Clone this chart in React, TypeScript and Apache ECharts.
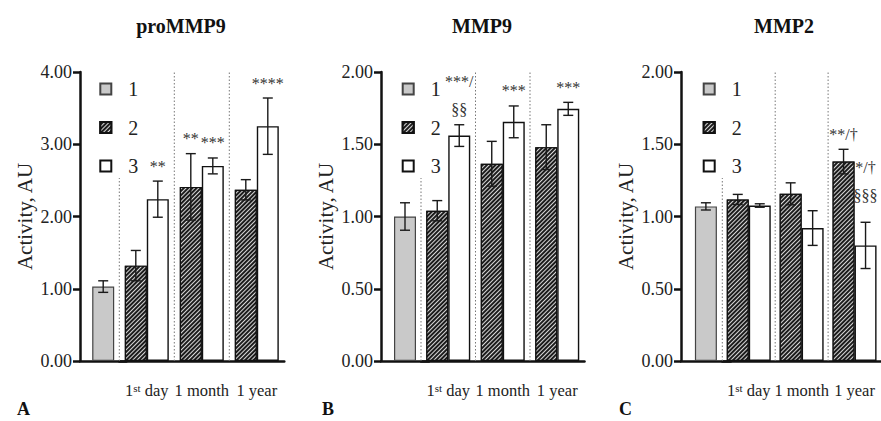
import React, { useEffect, useRef } from 'react';
import * as echarts from 'echarts';

const FONT = '"Liberation Serif", "Times New Roman", Times, serif';

// ---------- text ----------
const PANEL_TITLES = ['proMMP9', 'MMP9', 'MMP2'];
const PANEL_LETTERS = ['A', 'B', 'C'];
const GROUP_NAMES = ['1', '2', '3'];
const TIME_POINTS = ['1st day', '1 month', '1 year'];
const Y_NAME = 'Activity, AU';
const Y_MAX = [4, 2, 2];
const Y_STEP = [1, 0.5, 0.5];

// ---------- group 1 (control): one value per panel ----------
const CONTROL_MEAN = [1.03, 1.0, 1.07];
const CONTROL_ERR = [0.08, 0.095, 0.025];

// ---------- proMMP9 ----------
const PROMMP9_G2 = [1.32, 2.41, 2.37];
const PROMMP9_G2_ERR = [0.21, 0.46, 0.14];
const PROMMP9_G3 = [2.24, 2.7, 3.25];
const PROMMP9_G3_ERR = [0.25, 0.11, 0.39];
const PROMMP9_G2_MARK = ['', '**', ''];
const PROMMP9_G3_MARK = ['**', '***', '****'];

// ---------- MMP9 ----------
const MMP9_G2 = [1.04, 1.365, 1.48];
const MMP9_G2_ERR = [0.07, 0.155, 0.155];
const MMP9_G3 = [1.56, 1.655, 1.745];
const MMP9_G3_ERR = [0.075, 0.11, 0.045];
const MMP9_G2_MARK = ['', '', ''];
const MMP9_G3_MARK = ['***/\n§§', '***', '***'];

// ---------- MMP2 ----------
const MMP2_G2 = [1.118, 1.157, 1.38];
const MMP2_G2_ERR = [0.035, 0.076, 0.085];
const MMP2_G3 = [1.076, 0.92, 0.8];
const MMP2_G3_ERR = [0.012, 0.12, 0.16];
const MMP2_G2_MARK = ['', '', '**/†'];
const MMP2_G3_MARK = ['', '', '*/†\n§§§'];

const PANEL_DATA = [
  { g2: PROMMP9_G2, g2e: PROMMP9_G2_ERR, g3: PROMMP9_G3, g3e: PROMMP9_G3_ERR, m2: PROMMP9_G2_MARK, m3: PROMMP9_G3_MARK },
  { g2: MMP9_G2, g2e: MMP9_G2_ERR, g3: MMP9_G3, g3e: MMP9_G3_ERR, m2: MMP9_G2_MARK, m3: MMP9_G3_MARK },
  { g2: MMP2_G2, g2e: MMP2_G2_ERR, g3: MMP2_G3, g3e: MMP2_G3_ERR, m2: MMP2_G2_MARK, m3: MMP2_G3_MARK },
];

// ---------- layout / style ----------
const LAYOUT = [
  { axisX: 80, ctrlW: 46.4, groupX: 119.3, groupW: 165, legendX: 99.3, titleX: 181, letterX: 17 },
  { axisX: 381, ctrlW: 48, groupX: 421, groupW: 163.5, legendX: 401.7, titleX: 482, letterX: 322 },
  { axisX: 681, ctrlW: 49.8, groupX: 722.3, groupW: 164.1, legendX: 702.7, titleX: 784, letterX: 619 },
];
const GRID_TOP = 72;
const GRID_H = 289;
const BAR_W = 22;
const CAP = 5;
const MARK_GAP = 15;
const MARK_LINE = 28;
const MARK_EXTRA_LIFT: Record<string, number> = { '2-3-2': 12 };

const HATCH = {
  symbol: 'rect',
  symbolSize: 1,
  color: 'rgba(225,225,225,0.95)',
  dashArrayX: [1, 0],
  dashArrayY: [1, 2],
  rotation: -Math.PI / 4,
};

function errorSeries(axisIdx: number, means: number[], errs: number[], marks: string[], offset: number, key: string) {
  return {
    type: 'custom',
    xAxisIndex: axisIdx,
    yAxisIndex: axisIdx,
    z: 5,
    silent: true,
    clip: false,
    data: means.map((m, i) => [i, m, errs[i]]),
    renderItem: (params: any, api: any) => {
      const i = api.value(0);
      const m = api.value(1);
      const e = api.value(2);
      const top = api.coord([i, m + e]);
      const bot = api.coord([i, m - e]);
      const x = top[0] + offset;
      const ls = { stroke: '#1a1a1a', lineWidth: 1.4 };
      const children: any[] = [
        { type: 'line', shape: { x1: x, y1: top[1], x2: x, y2: bot[1] }, style: ls },
        { type: 'line', shape: { x1: x - CAP, y1: top[1], x2: x + CAP, y2: top[1] }, style: ls },
        { type: 'line', shape: { x1: x - CAP, y1: bot[1], x2: x + CAP, y2: bot[1] }, style: ls },
      ];
      const lines = (marks[params.dataIndex] || '').split('\n').filter(Boolean).reverse();
      const lift = MARK_EXTRA_LIFT[`${key}-${params.dataIndex}`] || 0;
      lines.forEach((t, k) => {
        children.push({
          type: 'text',
          style: {
            text: t,
            x,
            y: top[1] - MARK_GAP - lift - k * MARK_LINE,
            align: 'center',
            verticalAlign: 'middle',
            fontSize: 16,
            fontFamily: FONT,
            fill: '#333',
          },
        });
      });
      return { type: 'group', children };
    },
  };
}

function buildOption() {
  const grid: any[] = [];
  const xAxis: any[] = [];
  const yAxis: any[] = [];
  const series: any[] = [];
  const legend: any[] = [];
  const graphic: any[] = [];

  PANEL_DATA.forEach((d, p) => {
    const L = LAYOUT[p];
    const a = 2 * p;
    const b = 2 * p + 1;
    grid.push({ left: L.axisX, top: GRID_TOP, width: L.ctrlW, height: GRID_H });
    grid.push({ left: L.groupX, top: GRID_TOP, width: L.groupW, height: GRID_H });

    const axisLine = { show: true, lineStyle: { color: '#111', width: 2.5 } };
    xAxis.push({
      gridIndex: a, type: 'category', data: [''],
      axisLine, axisTick: { show: false }, axisLabel: { show: false },
    });
    xAxis.push({
      gridIndex: b, type: 'category', data: TIME_POINTS,
      axisLine, axisTick: { show: false },
      axisLabel: {
        interval: 0, margin: 21, fontFamily: FONT, fontSize: 16.5, color: '#222',
        formatter: (v: string) => v.replace(/^1st/, '1{sup|st}'),
        rich: { sup: { fontSize: 11, fontFamily: FONT, color: '#222', verticalAlign: 'top', padding: [0, 0, 6, 0] } },
      },
    });
    yAxis.push({
      gridIndex: a, type: 'value', min: 0, max: Y_MAX[p], interval: Y_STEP[p],
      name: Y_NAME, nameLocation: 'middle', nameGap: 45,
      nameTextStyle: { fontFamily: FONT, fontSize: 21, color: '#222' },
      axisLine, axisTick: { show: true, length: 7, lineStyle: { color: '#111', width: 2.5 } },
      axisLabel: { margin: 8, fontFamily: FONT, fontSize: 18, color: '#222', formatter: (v: number) => v.toFixed(2) },
      splitLine: { show: false },
    });
    yAxis.push({ gridIndex: b, type: 'value', min: 0, max: Y_MAX[p], interval: Y_STEP[p], show: false });

    // separators between the groups
    series.push({
      type: 'custom', xAxisIndex: b, yAxisIndex: b, z: 1, silent: true,
      data: TIME_POINTS.map((_, i) => [i]),
      renderItem: (params: any, api: any) => {
        const i = api.value(0);
        const c0 = api.coord([i, 0]);
        const c1 = api.coord([i, Y_MAX[p]]);
        const half = api.size([1, 0])[0] / 2;
        const x = c0[0] - half;
        return {
          type: 'line',
          shape: { x1: x, y1: c0[1], x2: x, y2: c1[1] },
          style: { stroke: '#777', lineWidth: 1, lineDash: [1.5, 2] },
        };
      },
    });

    series.push({
      type: 'bar', name: GROUP_NAMES[1], xAxisIndex: b, yAxisIndex: b, data: d.g2,
      barWidth: BAR_W, barGap: '0%', z: 3,
      itemStyle: { color: '#1c1c1c', borderColor: '#111', borderWidth: 1.2, decal: HATCH },
    });
    series.push({
      type: 'bar', name: GROUP_NAMES[2], xAxisIndex: b, yAxisIndex: b, data: d.g3,
      barWidth: BAR_W, barGap: '0%', z: 3,
      itemStyle: { color: '#ffffff', borderColor: '#111', borderWidth: 1.4 },
    });
    series.push({
      type: 'bar', name: GROUP_NAMES[0], xAxisIndex: a, yAxisIndex: a, data: [CONTROL_MEAN[p]],
      barWidth: BAR_W, z: 3,
      itemStyle: { color: '#c9c9c9', borderColor: '#444', borderWidth: 1.2 },
    });
    series.push(errorSeries(a, [CONTROL_MEAN[p]], [CONTROL_ERR[p]], [''], 0, `${p}-1`));
    series.push(errorSeries(b, d.g2, d.g2e, d.m2, -BAR_W / 2, `${p}-2`));
    series.push(errorSeries(b, d.g3, d.g3e, d.m3, BAR_W / 2, `${p}-3`));

    legend.push({
      data: GROUP_NAMES, orient: 'vertical', left: L.legendX, top: 71,
      itemWidth: 11, itemHeight: 11, itemGap: 18.5, icon: 'rect', selectedMode: false,
      backgroundColor: '#fff', padding: [8, 4, 2, 0],
      textStyle: { fontFamily: FONT, fontSize: 20, color: '#222', lineHeight: 20, padding: [0, 0, 0, 12] },
    });

    graphic.push({
      type: 'text', x: L.titleX, y: 25.5,
      style: { text: PANEL_TITLES[p], align: 'center', verticalAlign: 'middle', font: `bold 20px ${FONT}`, fill: '#111' },
    });
    graphic.push({
      type: 'text', x: L.letterX, y: 409,
      style: { text: PANEL_LETTERS[p], align: 'left', verticalAlign: 'middle', font: `bold 18px ${FONT}`, fill: '#111' },
    });
  });

  return { animation: false, grid, xAxis, yAxis, series, legend, graphic };
}

export default function App() {
  const ref = useRef<HTMLDivElement>(null);
  useEffect(() => {
    if (!ref.current) return;
    const chart = echarts.init(ref.current, undefined, { renderer: 'svg' });
    chart.setOption(buildOption() as any);
    return () => chart.dispose();
  }, []);
  return <div ref={ref} style={{ position: 'absolute', left: 0, top: 0, width: 881, height: 421, background: '#fff' }} />;
}
